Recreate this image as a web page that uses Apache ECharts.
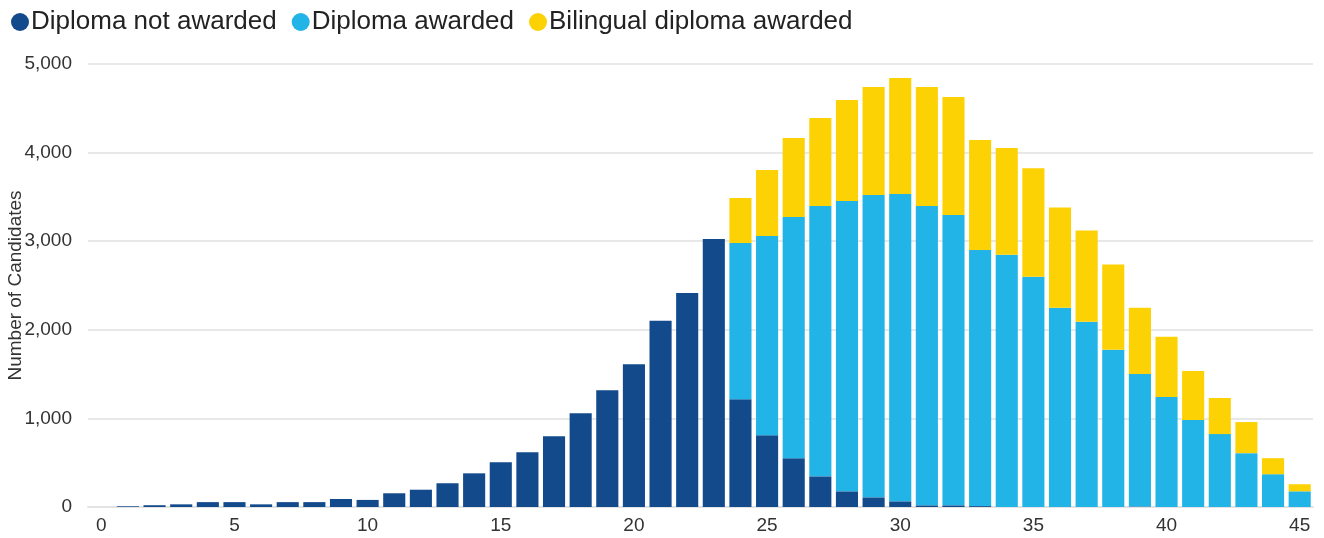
<!DOCTYPE html>
<html>
<head>
<meta charset="utf-8">
<script src="https://cdn.jsdelivr.net/npm/echarts@6/dist/echarts.min.js"></script>
<style>
html,body{margin:0;padding:0;background:#fff;}
#chart{width:1324px;height:538px;}
</style>
</head>
<body>
<div id="chart"></div>
<script>
var categories = ['0','1','2','3','4','5','6','7','8','9','10','11','12','13','14','15','16','17','18','19','20','21','22','23','24','25','26','27','28','29','30','31','32','33','34','35','36','37','38','39','40','41','42','43','44','45'];
var notAwarded = [0, 8, 20, 30, 55, 55, 30, 55, 55, 90, 80, 155, 195, 268, 380, 505, 618, 799, 1059, 1319, 1612, 2102, 2415, 3025, 1217, 810, 550, 346, 177, 109, 64, 19, 19, 10, 0, 0, 0, 0, 0, 5, 0, 0, 0, 0, 0, 0];
var awarded = [0,0,0,0,0,0,0,0,0,0,0,0,0,0,0,0,0,0,0,0,0,0,0,0, 1763, 2248, 2723, 3051, 3276, 3412, 3468, 3378, 3276, 2890, 2846, 2600, 2249, 2091, 1774, 1497, 1242, 981, 823, 608, 370, 177];
var bilingual = [0,0,0,0,0,0,0,0,0,0,0,0,0,0,0,0,0,0,0,0,0,0,0,0, 507, 746, 892, 994, 1142, 1220, 1311, 1344, 1333, 1243, 1206, 1223, 1132, 1030, 962, 747, 679, 555, 407, 351, 181, 80];
var seriesNames = ['Diploma not awarded', 'Diploma awarded', 'Bilingual diploma awarded'];
var yTicks = {min: 0, max: 5000, interval: 1000};

var chart = echarts.init(document.getElementById('chart'), null, {renderer: 'canvas'});
var font = 'Liberation Sans, Arial, sans-serif';
function mk(name, data, color) {
  return {
    name: name, type: 'bar', stack: 'total', data: data,
    barCategoryGap: '17%',
    itemStyle: {color: color},
    emphasis: {disabled: true}
  };
}
chart.setOption({
  animation: false,
  textStyle: {fontFamily: font},
  legend: {
    left: 6, top: 4,
    icon: 'circle', itemWidth: 18, itemHeight: 18, itemGap: 15,
    textStyle: {fontSize: 26, color: '#222', fontFamily: font, padding: [0,0,0,-3]},
    data: seriesNames
  },
  grid: {left: 88, right: 11, top: 64, bottom: 31, containLabel: false, outerBoundsMode: 'none'},
  xAxis: {
    type: 'category', data: categories,
    axisTick: {show: false},
    axisLine: {lineStyle: {color: '#e3e3e3', width: 2}},
    axisLabel: {interval: 4, color: '#333', fontSize: 19, margin: 9, fontFamily: font}
  },
  yAxis: {
    type: 'value', min: yTicks.min, max: yTicks.max, interval: yTicks.interval,
    name: 'Number of Candidates', nameLocation: 'middle', nameGap: 63, nameMoveOverlap: false,
    nameTextStyle: {fontSize: 19, color: '#333', fontFamily: font},
    axisLine: {show: false}, axisTick: {show: false},
    axisLabel: {color: '#333', fontSize: 19, margin: 16, fontFamily: font,
      formatter: function (v) { return v.toLocaleString('en-US'); }},
    splitLine: {lineStyle: {color: '#e8e8e8', width: 2}}
  },
  series: [
    mk(seriesNames[0], notAwarded, '#124a8b'),
    mk(seriesNames[1], awarded, '#22b3e7'),
    mk(seriesNames[2], bilingual, '#fcd205')
  ]
});
</script>
</body>
</html>
